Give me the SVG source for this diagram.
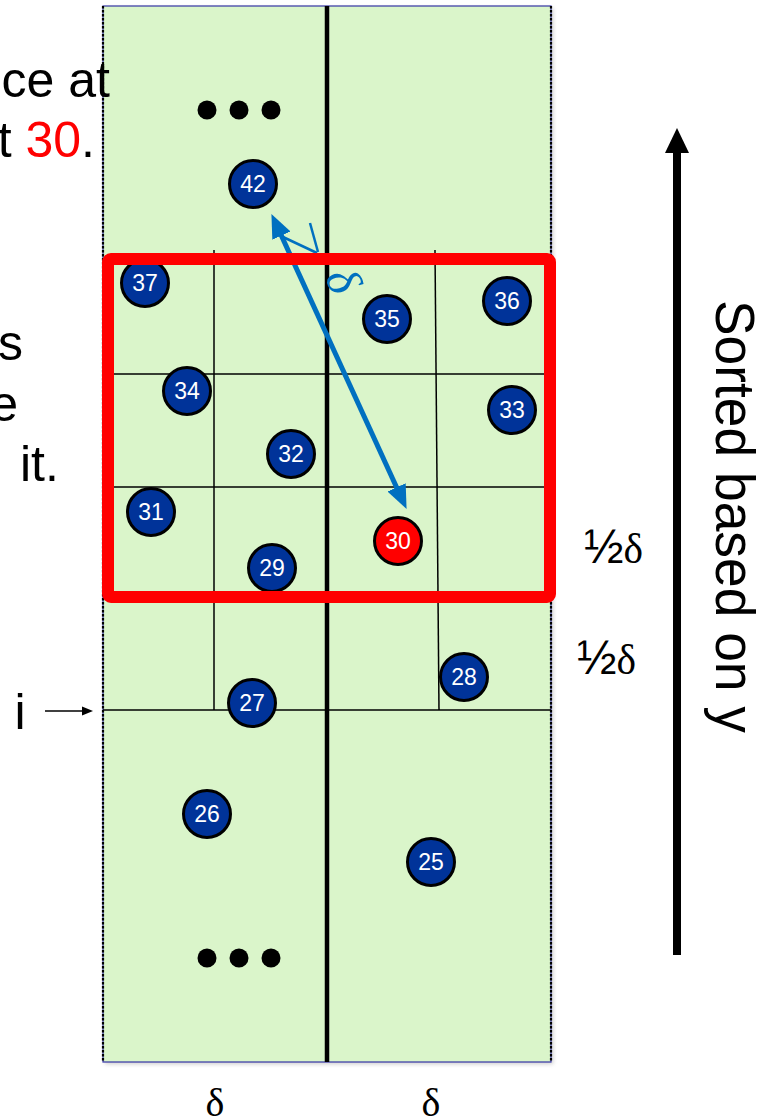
<svg xmlns="http://www.w3.org/2000/svg" width="766" height="1120" viewBox="0 0 766 1120">
<style>
.grid{stroke:#000;stroke-width:1.5;fill:none}
.node circle{stroke:#000;stroke-width:3}
.blue circle{fill:#003399}
.red circle{fill:#FF0000}
.node text{fill:#fff;font-family:"Liberation Sans",Arial,sans-serif;font-size:23px;text-anchor:middle}
.big{font-family:"Liberation Sans",Arial,sans-serif;font-size:50px;fill:#000}
.ser{font-family:"Liberation Serif","Times New Roman",serif;fill:#000}
.half{font-family:"Liberation Sans",Arial,sans-serif;font-size:48px}
.hd{font-family:"Liberation Serif","Times New Roman",serif;font-size:42px}
</style>
<defs>
<filter id="sh" x="-5%" y="-5%" width="110%" height="110%"><feGaussianBlur stdDeviation="2"/></filter>
<marker id="bh" viewBox="0 0 24 20" refX="1" refY="10" markerWidth="24" markerHeight="20" markerUnits="userSpaceOnUse" orient="auto-start-reverse"><path d="M0,0 L24,10 L0,20 z" fill="#0070C0"/></marker>
</defs>
<rect width="766" height="1120" fill="#fff"/>
<g id="strip">
<rect x="105" y="8" width="448" height="1056" fill="#999" opacity="0.5" filter="url(#sh)"/>
<rect x="103" y="6" width="448" height="1056" fill="#DAF5CA" stroke="#3535A5" stroke-width="1.2"/>
<line x1="103" y1="6" x2="103" y2="1062" stroke="#000" stroke-width="2.2" stroke-dasharray="2.5 1.5"/>
<line x1="551" y1="6" x2="551" y2="1062" stroke="#000" stroke-width="2.2" stroke-dasharray="2.5 1.5"/>
</g>
<g id="grid">
<line class="grid" x1="103" y1="374" x2="551" y2="374"/>
<line class="grid" x1="103" y1="487" x2="551" y2="487"/>
<line class="grid" x1="103" y1="597" x2="551" y2="597"/>
<line class="grid" x1="103" y1="710" x2="551" y2="710"/>
<line class="grid" x1="214" y1="250" x2="214" y2="710"/>
<line class="grid" x1="435" y1="250" x2="439" y2="710"/>
<line x1="327" y1="6" x2="327" y2="1062" stroke="#000" stroke-width="4.5"/>
</g>
<g id="connectors">
<line x1="281" y1="234.8" x2="397" y2="488.2" stroke="#0070C0" stroke-width="5" marker-start="url(#bh)" marker-end="url(#bh)"/>
<line x1="283" y1="237" x2="317" y2="253" stroke="#0070C0" stroke-width="2.5"/>
<line x1="310" y1="223" x2="318" y2="252" stroke="#0070C0" stroke-width="2.5"/>
<text transform="translate(342,281) rotate(65)" font-family="Liberation Serif,serif" font-style="italic" font-size="48" fill="#0070C0" text-anchor="middle" dy="0.3em">δ</text>
<line x1="45" y1="711" x2="84" y2="711" stroke="#000" stroke-width="1.5"/>
<polygon points="82,706.5 93,711 82,715.5" fill="#000"/>
<line x1="677" y1="955" x2="677" y2="150" stroke="#000" stroke-width="8"/>
<polygon points="677,128 689,153 665,153" fill="#000"/>
</g>
<g id="dots-top"><circle cx="207" cy="110" r="9.5"/><circle cx="239" cy="110" r="9.5"/><circle cx="271" cy="110" r="9.5"/></g>
<g id="dots-bottom"><circle cx="207" cy="958" r="9.5"/><circle cx="239" cy="958" r="9.5"/><circle cx="271" cy="958" r="9.5"/></g>
<g id="n42" class="node blue"><circle cx="253" cy="184" r="23.5"/><text x="253" y="184" dy="0.36em">42</text></g>
<g id="n37" class="node blue"><circle cx="145" cy="283" r="23.5"/><text x="145" y="283" dy="0.36em">37</text></g>
<g id="n36" class="node blue"><circle cx="507" cy="301" r="23.5"/><text x="507" y="301" dy="0.36em">36</text></g>
<g id="n35" class="node blue"><circle cx="387" cy="319" r="23.5"/><text x="387" y="319" dy="0.36em">35</text></g>
<g id="n34" class="node blue"><circle cx="187" cy="391" r="23.5"/><text x="187" y="391" dy="0.36em">34</text></g>
<g id="n33" class="node blue"><circle cx="512" cy="410" r="23.5"/><text x="512" y="410" dy="0.36em">33</text></g>
<g id="n32" class="node blue"><circle cx="291" cy="454" r="23.5"/><text x="291" y="454" dy="0.36em">32</text></g>
<g id="n31" class="node blue"><circle cx="151" cy="512" r="23.5"/><text x="151" y="512" dy="0.36em">31</text></g>
<g id="n30" class="node red"><circle cx="398" cy="541" r="23.5"/><text x="398" y="541" dy="0.36em">30</text></g>
<g id="n29" class="node blue"><circle cx="272" cy="568" r="23.5"/><text x="272" y="568" dy="0.36em">29</text></g>
<g id="n28" class="node blue"><circle cx="464" cy="677" r="23.5"/><text x="464" y="677" dy="0.36em">28</text></g>
<g id="n27" class="node blue"><circle cx="252" cy="703" r="23.5"/><text x="252" y="703" dy="0.36em">27</text></g>
<g id="n26" class="node blue"><circle cx="207" cy="814" r="23.5"/><text x="207" y="814" dy="0.36em">26</text></g>
<g id="n25" class="node blue"><circle cx="431" cy="862" r="23.5"/><text x="431" y="862" dy="0.36em">25</text></g>
<g id="window"><rect x="108" y="259" width="442" height="338" rx="3" fill="none" stroke="#FF0000" stroke-width="12"/></g>
<g id="left-text">
<text class="big" x="110" y="97" text-anchor="end">ce at</text>
<text class="big" x="95" y="157" text-anchor="end">t <tspan fill="#FF0000">30</tspan>.</text>
<text class="big" x="23" y="360" text-anchor="end">s</text>
<text class="big" x="18" y="421" text-anchor="end">e</text>
<text class="big" y="481"><tspan x="3" text-anchor="end">n</tspan><tspan x="20">it.</tspan></text>
<text class="big" x="20" y="729" text-anchor="middle" font-size="48">i</text>
</g>
<g id="labels">
<text x="584" y="563" textLength="59" lengthAdjust="spacingAndGlyphs"><tspan class="half">½</tspan><tspan class="hd">δ</tspan></text>
<text x="577" y="674" textLength="59" lengthAdjust="spacingAndGlyphs"><tspan class="half">½</tspan><tspan class="hd">δ</tspan></text>
<text class="ser" x="215" y="1116" font-size="40" text-anchor="middle">δ</text>
<text class="ser" x="431" y="1116" font-size="40" text-anchor="middle">δ</text>
<text transform="translate(716,300) rotate(90)" font-family="Liberation Sans,Arial,sans-serif" font-size="56" textLength="433" lengthAdjust="spacingAndGlyphs" fill="#000">Sorted based on y</text>
</g>
</svg>
